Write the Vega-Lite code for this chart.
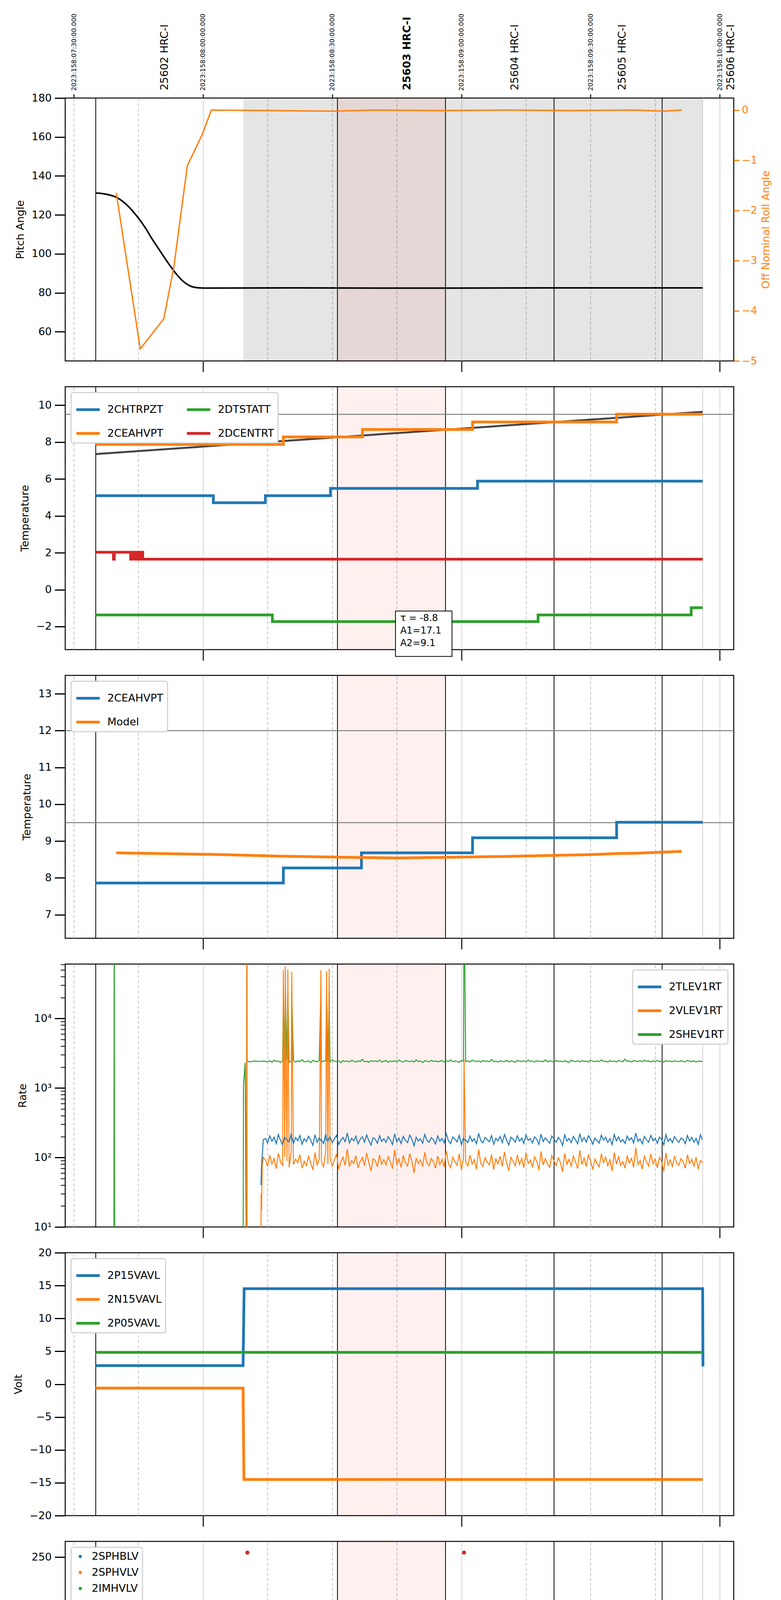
{
"$schema":"https://vega.github.io/schema/vega-lite/v6.json",
"background":"white",
"padding":{"top":33,"left":28,"right":5,"bottom":5},
"spacing":66,
"bounds":"flush",
"config":{
 "font":"DejaVu Sans",
 "view":{"stroke":"#000000","strokeWidth":2.5},
 "axis":{"labelFont":"DejaVu Sans","titleFont":"DejaVu Sans","labelFontSize":27,"titleFontSize":27,"titleFontWeight":"normal","labelColor":"#000000","titleColor":"#000000","tickColor":"#000000","tickSize":27,"tickWidth":3,"labelPadding":8,"titlePadding":14,"domain":false,"grid":false,"labelLimit":0},
 "legend":{"orient":"top-left","offset":15,"labelFont":"DejaVu Sans","labelFontSize":27,"labelColor":"#000000","fillColor":"#ffffff","strokeColor":"#cccccc","strokeWidth":2.5,"cornerRadius":6,"padding":10,"rowPadding":13,"symbolType":"stroke","symbolStrokeWidth":7,"symbolSize":3600,"labelOffset":16,"labelLimit":500},
 "text":{"font":"DejaVu Sans","color":"#000000"}
},
"resolve":{"scale":{"color":"independent"},"legend":{"color":"independent"}},
"datasets":{
 "obs_edges":[{"t":455.09},{"t":511.22},{"t":536.31},{"t":561.52},{"t":586.62}],
 "data_end":[{"t":596.03}],
 "pink_span":[{"t":511.22,"t2":536.31}],
 "grey_span":[{"t":489.37,"t2":596.03}],
 "obs_labels":[{"t":471.13,"obsid":"25602 HRC-I"},{"t":527.48,"obsid":"25603 HRC-I"},{"t":552.47,"obsid":"25604 HRC-I"},{"t":577.45,"obsid":"25605 HRC-I"},{"t":602.66,"obsid":"25606 HRC-I"}],
 "pitch":[{"t":455.09,"v":131.2},{"t":456.02,"v":131.1},{"t":457.76,"v":130.5},{"t":460.09,"v":128.8},{"t":462.41,"v":124.9},{"t":464.73,"v":119.1},{"t":466.48,"v":113.8},{"t":468.22,"v":107.5},{"t":469.96,"v":101.7},{"t":471.71,"v":95.9},{"t":473.45,"v":90.6},{"t":475.19,"v":86.3},{"t":476.94,"v":83.6},{"t":478.68,"v":82.6},{"t":480.42,"v":82.4},{"t":500,"v":82.5},{"t":530,"v":82.4},{"t":560,"v":82.5},{"t":596.03,"v":82.5}],
 "roll":[{"t":459.85,"v":-1.65},{"t":465.43,"v":-4.76},{"t":470.89,"v":-4.16},{"t":473.22,"v":-3.13},{"t":476.36,"v":-1.11},{"t":479.84,"v":-0.48},{"t":481.93,"v":0.0},{"t":495,"v":-0.01},{"t":510,"v":-0.02},{"t":520,"v":0.0},{"t":535,"v":-0.01},{"t":550,"v":0.0},{"t":565,"v":-0.01},{"t":580,"v":0.0},{"t":587,"v":-0.02},{"t":591.15,"v":0.0}],
 "p2":[
  {"t":455.09,"s":"2CHTRPZT","v":5.09},{"t":482.4,"s":"2CHTRPZT","v":4.71},{"t":494.48,"s":"2CHTRPZT","v":5.09},{"t":509.59,"s":"2CHTRPZT","v":5.49},{"t":543.75,"s":"2CHTRPZT","v":5.88},{"t":596.03,"s":"2CHTRPZT","v":5.88},
  {"t":455.09,"s":"2CEAHVPT","v":7.87},{"t":498.66,"s":"2CEAHVPT","v":8.28},{"t":517.02,"s":"2CEAHVPT","v":8.68},{"t":542.59,"s":"2CEAHVPT","v":9.09},{"t":576.05,"s":"2CEAHVPT","v":9.51},{"t":596.03,"s":"2CEAHVPT","v":9.51},
  {"t":455.09,"s":"2DTSTATT","v":-1.37},{"t":496.11,"s":"2DTSTATT","v":-1.73},{"t":557.81,"s":"2DTSTATT","v":-1.37},{"t":593.36,"s":"2DTSTATT","v":-0.98},{"t":596.03,"s":"2DTSTATT","v":-0.98},
  {"t":455.09,"s":"2DCENTRT","v":2.03},{"t":459.2,"s":"2DCENTRT","v":1.65},{"t":459.4,"s":"2DCENTRT","v":2.03},{"t":463.2,"s":"2DCENTRT","v":1.65},{"t":463.35,"s":"2DCENTRT","v":2.03},{"t":463.6,"s":"2DCENTRT","v":1.65},{"t":463.75,"s":"2DCENTRT","v":2.03},{"t":464.0,"s":"2DCENTRT","v":1.65},{"t":464.15,"s":"2DCENTRT","v":2.03},{"t":464.4,"s":"2DCENTRT","v":1.65},{"t":464.55,"s":"2DCENTRT","v":2.03},{"t":464.8,"s":"2DCENTRT","v":1.65},{"t":464.95,"s":"2DCENTRT","v":2.03},{"t":465.3,"s":"2DCENTRT","v":1.65},{"t":465.45,"s":"2DCENTRT","v":2.03},{"t":466.0,"s":"2DCENTRT","v":1.65},{"t":596.03,"s":"2DCENTRT","v":1.65}
 ],
 "trend":[{"t":455.09,"v":7.35},{"t":596.03,"v":9.64}],
 "limits2":[{"limit":9.5}],
 "note":[{"note":["τ = -8.8","A1=17.1","A2=9.1"]}],
 "limits3":[{"limit":12},{"limit":9.5}],
 "p3_hvpt":[{"t":455.09,"s":"2CEAHVPT","v":7.86},{"t":498.66,"s":"2CEAHVPT","v":8.27},{"t":516.79,"s":"2CEAHVPT","v":8.68},{"t":542.59,"s":"2CEAHVPT","v":9.09},{"t":576.05,"s":"2CEAHVPT","v":9.51},{"t":596.03,"s":"2CEAHVPT","v":9.51}],
 "p3_model":[{"t":459.85,"s":"Model","v":8.68},{"t":481.58,"s":"Model","v":8.64},{"t":497.85,"s":"Model","v":8.59},{"t":514.12,"s":"Model","v":8.56},{"t":524.92,"s":"Model","v":8.54},{"t":536.2,"s":"Model","v":8.56},{"t":548.98,"s":"Model","v":8.58},{"t":560.6,"s":"Model","v":8.61},{"t":569.31,"s":"Model","v":8.63},{"t":575.7,"s":"Model","v":8.66},{"t":580.35,"s":"Model","v":8.67},{"t":591.15,"s":"Model","v":8.72}],
 "p4":[
  {"t":459.3,"2SHEV1RT":1},{"t":459.39,"2SHEV1RT":1000000},{"t":459.48,"2SHEV1RT":1},
  {"t":489.3,"2SHEV1RT":1},{"t":489.4,"2SHEV1RT":1100},{"t":489.8,"2SHEV1RT":2300},
  {"t":490.1,"2VLEV1RT":1,"2SHEV1RT":1},{"t":490.18,"2VLEV1RT":1000000,"2SHEV1RT":1000000},{"t":490.26,"2VLEV1RT":1,"2SHEV1RT":2400},
  {"t":491.0,"2SHEV1RT":2380},{"t":492.0,"2SHEV1RT":2450},{"t":493.0,"2SHEV1RT":2400},
  {"t":493.4,"2VLEV1RT":1},{"t":493.45,"2TLEV1RT":40},{"t":493.5,"2VLEV1RT":30},{"t":493.6,"2TLEV1RT":75,"2VLEV1RT":17},{"t":493.75,"2VLEV1RT":75},
  {"t":494.0,"2TLEV1RT":180,"2VLEV1RT":100,"2SHEV1RT":2430},
  {"t":494.5,"2TLEV1RT":188,"2VLEV1RT":92,"2SHEV1RT":2420},
  {"t":495.0,"2TLEV1RT":162,"2VLEV1RT":74,"2SHEV1RT":2380},
  {"t":495.5,"2TLEV1RT":205,"2VLEV1RT":108,"2SHEV1RT":2460},
  {"t":496.0,"2TLEV1RT":171,"2VLEV1RT":81,"2SHEV1RT":2350},
  {"t":496.5,"2TLEV1RT":196,"2VLEV1RT":97,"2SHEV1RT":2500},
  {"t":497.0,"2TLEV1RT":158,"2VLEV1RT":69,"2SHEV1RT":2410},
  {"t":497.5,"2TLEV1RT":214,"2VLEV1RT":115,"2SHEV1RT":2440},
  {"t":498.0,"2TLEV1RT":176,"2VLEV1RT":85,"2SHEV1RT":2330},
  {"t":498.5,"2TLEV1RT":152,"2VLEV1RT":77,"2SHEV1RT":2470},
  {"t":498.66,"2TLEV1RT":170,"2VLEV1RT":49600,"2SHEV1RT":24000},
  {"t":499.0,"2TLEV1RT":199,"2VLEV1RT":102,"2SHEV1RT":2390},
  {"t":499.1,"2TLEV1RT":185,"2VLEV1RT":56000,"2SHEV1RT":27500},
  {"t":499.5,"2TLEV1RT":183,"2VLEV1RT":89,"2SHEV1RT":2520},
  {"t":499.7,"2TLEV1RT":172,"2VLEV1RT":51000,"2SHEV1RT":24000},
  {"t":500.0,"2TLEV1RT":167,"2VLEV1RT":72,"2SHEV1RT":2360},
  {"t":500.5,"2TLEV1RT":221,"2VLEV1RT":121,"2SHEV1RT":2430},
  {"t":500.6,"2TLEV1RT":190,"2VLEV1RT":46800,"2SHEV1RT":24000},
  {"t":501.0,"2TLEV1RT":160,"2VLEV1RT":79,"2SHEV1RT":2480},
  {"t":501.5,"2TLEV1RT":193,"2VLEV1RT":95,"2SHEV1RT":2340},
  {"t":502.0,"2TLEV1RT":174,"2VLEV1RT":84,"2SHEV1RT":2450},
  {"t":502.5,"2TLEV1RT":207,"2VLEV1RT":110,"2SHEV1RT":2400},
  {"t":503.0,"2TLEV1RT":155,"2VLEV1RT":70,"2SHEV1RT":2550},
  {"t":503.5,"2TLEV1RT":186,"2VLEV1RT":88,"2SHEV1RT":2370},
  {"t":504.0,"2TLEV1RT":169,"2VLEV1RT":76,"2SHEV1RT":2410},
  {"t":504.5,"2TLEV1RT":202,"2VLEV1RT":104,"2SHEV1RT":2460},
  {"t":505.0,"2TLEV1RT":178,"2VLEV1RT":83,"2SHEV1RT":2320},
  {"t":505.5,"2TLEV1RT":149,"2VLEV1RT":66,"2SHEV1RT":2490},
  {"t":506.0,"2TLEV1RT":212,"2VLEV1RT":118,"2SHEV1RT":2430},
  {"t":506.5,"2TLEV1RT":165,"2VLEV1RT":78,"2SHEV1RT":2380},
  {"t":507.0,"2TLEV1RT":191,"2VLEV1RT":94,"2SHEV1RT":2510},
  {"t":507.38,"2TLEV1RT":176,"2VLEV1RT":49600,"2SHEV1RT":27500},
  {"t":507.5,"2TLEV1RT":180,"2VLEV1RT":87,"2SHEV1RT":2350},
  {"t":508.0,"2TLEV1RT":158,"2VLEV1RT":73,"2SHEV1RT":2440},
  {"t":508.5,"2TLEV1RT":216,"2VLEV1RT":126,"2SHEV1RT":2470},
  {"t":508.7,"2TLEV1RT":181,"2VLEV1RT":48000,"2SHEV1RT":23000},
  {"t":509.0,"2TLEV1RT":172,"2VLEV1RT":80,"2SHEV1RT":2400},
  {"t":509.3,"2TLEV1RT":188,"2VLEV1RT":52000,"2SHEV1RT":25000},
  {"t":509.5,"2TLEV1RT":197,"2VLEV1RT":99,"2SHEV1RT":2360},
  {"t":510.0,"2TLEV1RT":163,"2VLEV1RT":75,"2SHEV1RT":2530},
  {"t":510.5,"2TLEV1RT":185,"2VLEV1RT":91,"2SHEV1RT":2420},
  {"t":511.0,"2TLEV1RT":208,"2VLEV1RT":112,"2SHEV1RT":2390},
  {"t":511.5,"2TLEV1RT":154,"2VLEV1RT":68,"2SHEV1RT":2450},
  {"t":512.0,"2TLEV1RT":177,"2VLEV1RT":86,"2SHEV1RT":2310},
  {"t":512.5,"2TLEV1RT":194,"2VLEV1RT":101,"2SHEV1RT":2480},
  {"t":513.0,"2TLEV1RT":168,"2VLEV1RT":77,"2SHEV1RT":2410},
  {"t":513.5,"2TLEV1RT":225,"2VLEV1RT":133,"2SHEV1RT":2440},
  {"t":514.0,"2TLEV1RT":161,"2VLEV1RT":74,"2SHEV1RT":2370},
  {"t":514.5,"2TLEV1RT":189,"2VLEV1RT":90,"2SHEV1RT":2500},
  {"t":515.0,"2TLEV1RT":173,"2VLEV1RT":82,"2SHEV1RT":2430},
  {"t":515.5,"2TLEV1RT":203,"2VLEV1RT":106,"2SHEV1RT":2350},
  {"t":516.0,"2TLEV1RT":157,"2VLEV1RT":71,"2SHEV1RT":2460},
  {"t":516.5,"2TLEV1RT":182,"2VLEV1RT":88,"2SHEV1RT":2400},
  {"t":517.0,"2TLEV1RT":198,"2VLEV1RT":100,"2SHEV1RT":2580},
  {"t":517.5,"2TLEV1RT":166,"2VLEV1RT":76,"2SHEV1RT":2380},
  {"t":518.0,"2TLEV1RT":211,"2VLEV1RT":116,"2SHEV1RT":2420},
  {"t":518.5,"2TLEV1RT":175,"2VLEV1RT":85,"2SHEV1RT":2340},
  {"t":519.0,"2TLEV1RT":150,"2VLEV1RT":64,"2SHEV1RT":2470},
  {"t":519.5,"2TLEV1RT":192,"2VLEV1RT":96,"2SHEV1RT":2410},
  {"t":520.0,"2TLEV1RT":184,"2VLEV1RT":91,"2SHEV1RT":2450},
  {"t":520.5,"2TLEV1RT":160,"2VLEV1RT":73,"2SHEV1RT":2390},
  {"t":521.0,"2TLEV1RT":206,"2VLEV1RT":109,"2SHEV1RT":2510},
  {"t":521.5,"2TLEV1RT":170,"2VLEV1RT":80,"2SHEV1RT":2360},
  {"t":522.0,"2TLEV1RT":187,"2VLEV1RT":93,"2SHEV1RT":2430},
  {"t":522.5,"2TLEV1RT":164,"2VLEV1RT":78,"2SHEV1RT":2480},
  {"t":523.0,"2TLEV1RT":199,"2VLEV1RT":103,"2SHEV1RT":2330},
  {"t":523.5,"2TLEV1RT":179,"2VLEV1RT":86,"2SHEV1RT":2440},
  {"t":524.0,"2TLEV1RT":153,"2VLEV1RT":69,"2SHEV1RT":2400},
  {"t":524.5,"2TLEV1RT":219,"2VLEV1RT":128,"2SHEV1RT":2460},
  {"t":525.0,"2TLEV1RT":169,"2VLEV1RT":79,"2SHEV1RT":2370},
  {"t":525.5,"2TLEV1RT":190,"2VLEV1RT":95,"2SHEV1RT":2520},
  {"t":526.0,"2TLEV1RT":158,"2VLEV1RT":72,"2SHEV1RT":2410},
  {"t":526.5,"2TLEV1RT":201,"2VLEV1RT":107,"2SHEV1RT":2350},
  {"t":527.0,"2TLEV1RT":176,"2VLEV1RT":84,"2SHEV1RT":2490},
  {"t":527.5,"2TLEV1RT":163,"2VLEV1RT":75,"2SHEV1RT":2430},
  {"t":528.0,"2TLEV1RT":210,"2VLEV1RT":114,"2SHEV1RT":2390},
  {"t":528.5,"2TLEV1RT":184,"2VLEV1RT":89,"2SHEV1RT":2450},
  {"t":529.0,"2TLEV1RT":147,"2VLEV1RT":60,"2SHEV1RT":2360},
  {"t":529.5,"2TLEV1RT":195,"2VLEV1RT":98,"2SHEV1RT":2540},
  {"t":530.0,"2TLEV1RT":172,"2VLEV1RT":81,"2SHEV1RT":2400},
  {"t":530.5,"2TLEV1RT":186,"2VLEV1RT":92,"2SHEV1RT":2440},
  {"t":531.0,"2TLEV1RT":160,"2VLEV1RT":74,"2SHEV1RT":2320},
  {"t":531.5,"2TLEV1RT":214,"2VLEV1RT":119,"2SHEV1RT":2470},
  {"t":532.0,"2TLEV1RT":177,"2VLEV1RT":83,"2SHEV1RT":2420},
  {"t":532.5,"2TLEV1RT":165,"2VLEV1RT":76,"2SHEV1RT":2380},
  {"t":533.0,"2TLEV1RT":193,"2VLEV1RT":97,"2SHEV1RT":2500},
  {"t":533.5,"2TLEV1RT":181,"2VLEV1RT":88,"2SHEV1RT":2410},
  {"t":534.0,"2TLEV1RT":156,"2VLEV1RT":70,"2SHEV1RT":2450},
  {"t":534.5,"2TLEV1RT":204,"2VLEV1RT":105,"2SHEV1RT":2370},
  {"t":535.0,"2TLEV1RT":171,"2VLEV1RT":79,"2SHEV1RT":2430},
  {"t":535.5,"2TLEV1RT":188,"2VLEV1RT":94,"2SHEV1RT":2490},
  {"t":536.0,"2TLEV1RT":162,"2VLEV1RT":73,"2SHEV1RT":2350},
  {"t":536.5,"2TLEV1RT":218,"2VLEV1RT":124,"2SHEV1RT":2460},
  {"t":537.0,"2TLEV1RT":174,"2VLEV1RT":82,"2SHEV1RT":2400},
  {"t":537.5,"2TLEV1RT":158,"2VLEV1RT":71,"2SHEV1RT":2530},
  {"t":538.0,"2TLEV1RT":197,"2VLEV1RT":101,"2SHEV1RT":2380},
  {"t":538.5,"2TLEV1RT":183,"2VLEV1RT":87,"2SHEV1RT":2440},
  {"t":539.0,"2TLEV1RT":167,"2VLEV1RT":77,"2SHEV1RT":2410},
  {"t":539.5,"2TLEV1RT":209,"2VLEV1RT":113,"2SHEV1RT":2340},
  {"t":540.0,"2TLEV1RT":152,"2VLEV1RT":66,"2SHEV1RT":2480},
  {"t":540.5,"2TLEV1RT":191,"2VLEV1RT":96,"2SHEV1RT":2420},
  {"t":540.61,"2TLEV1RT":180,"2VLEV1RT":2600,"2SHEV1RT":1000000},
  {"t":541.0,"2TLEV1RT":179,"2VLEV1RT":85,"2SHEV1RT":2390},
  {"t":541.5,"2TLEV1RT":164,"2VLEV1RT":75,"2SHEV1RT":2460},
  {"t":542.0,"2TLEV1RT":203,"2VLEV1RT":108,"2SHEV1RT":2370},
  {"t":542.5,"2TLEV1RT":170,"2VLEV1RT":80,"2SHEV1RT":2510},
  {"t":543.0,"2TLEV1RT":186,"2VLEV1RT":93,"2SHEV1RT":2430},
  {"t":543.5,"2TLEV1RT":157,"2VLEV1RT":68,"2SHEV1RT":2400},
  {"t":544.0,"2TLEV1RT":222,"2VLEV1RT":130,"2SHEV1RT":2450},
  {"t":544.5,"2TLEV1RT":175,"2VLEV1RT":83,"2SHEV1RT":2360},
  {"t":545.0,"2TLEV1RT":162,"2VLEV1RT":74,"2SHEV1RT":2490},
  {"t":545.5,"2TLEV1RT":194,"2VLEV1RT":99,"2SHEV1RT":2410},
  {"t":546.0,"2TLEV1RT":180,"2VLEV1RT":86,"2SHEV1RT":2440},
  {"t":546.5,"2TLEV1RT":168,"2VLEV1RT":78,"2SHEV1RT":2380},
  {"t":547.0,"2TLEV1RT":207,"2VLEV1RT":111,"2SHEV1RT":2560},
  {"t":547.5,"2TLEV1RT":155,"2VLEV1RT":67,"2SHEV1RT":2400},
  {"t":548.0,"2TLEV1RT":189,"2VLEV1RT":95,"2SHEV1RT":2430},
  {"t":548.5,"2TLEV1RT":173,"2VLEV1RT":81,"2SHEV1RT":2350},
  {"t":549.0,"2TLEV1RT":200,"2VLEV1RT":104,"2SHEV1RT":2470},
  {"t":549.5,"2TLEV1RT":163,"2VLEV1RT":74,"2SHEV1RT":2420},
  {"t":550.0,"2TLEV1RT":214,"2VLEV1RT":120,"2SHEV1RT":2390},
  {"t":550.5,"2TLEV1RT":178,"2VLEV1RT":84,"2SHEV1RT":2500},
  {"t":551.0,"2TLEV1RT":151,"2VLEV1RT":65,"2SHEV1RT":2370},
  {"t":551.5,"2TLEV1RT":196,"2VLEV1RT":100,"2SHEV1RT":2450},
  {"t":552.0,"2TLEV1RT":184,"2VLEV1RT":89,"2SHEV1RT":2410},
  {"t":552.5,"2TLEV1RT":166,"2VLEV1RT":76,"2SHEV1RT":2340},
  {"t":553.0,"2TLEV1RT":205,"2VLEV1RT":109,"2SHEV1RT":2480},
  {"t":553.5,"2TLEV1RT":171,"2VLEV1RT":79,"2SHEV1RT":2430},
  {"t":554.0,"2TLEV1RT":190,"2VLEV1RT":97,"2SHEV1RT":2400},
  {"t":554.5,"2TLEV1RT":159,"2VLEV1RT":71,"2SHEV1RT":2460},
  {"t":555.0,"2TLEV1RT":211,"2VLEV1RT":117,"2SHEV1RT":2380},
  {"t":555.5,"2TLEV1RT":176,"2VLEV1RT":82,"2SHEV1RT":2520},
  {"t":556.0,"2TLEV1RT":187,"2VLEV1RT":92,"2SHEV1RT":2410},
  {"t":556.5,"2TLEV1RT":161,"2VLEV1RT":73,"2SHEV1RT":2440},
  {"t":557.0,"2TLEV1RT":198,"2VLEV1RT":102,"2SHEV1RT":2360},
  {"t":557.5,"2TLEV1RT":182,"2VLEV1RT":88,"2SHEV1RT":2470},
  {"t":558.0,"2TLEV1RT":154,"2VLEV1RT":66,"2SHEV1RT":2400},
  {"t":558.5,"2TLEV1RT":216,"2VLEV1RT":122,"2SHEV1RT":2430},
  {"t":559.0,"2TLEV1RT":169,"2VLEV1RT":78,"2SHEV1RT":2390},
  {"t":559.5,"2TLEV1RT":192,"2VLEV1RT":96,"2SHEV1RT":2540},
  {"t":560.0,"2TLEV1RT":174,"2VLEV1RT":81,"2SHEV1RT":2370},
  {"t":560.5,"2TLEV1RT":160,"2VLEV1RT":72,"2SHEV1RT":2450},
  {"t":561.0,"2TLEV1RT":204,"2VLEV1RT":107,"2SHEV1RT":2420},
  {"t":561.5,"2TLEV1RT":185,"2VLEV1RT":90,"2SHEV1RT":2350},
  {"t":562.0,"2TLEV1RT":165,"2VLEV1RT":76,"2SHEV1RT":2490},
  {"t":562.5,"2TLEV1RT":195,"2VLEV1RT":99,"2SHEV1RT":2410},
  {"t":563.0,"2TLEV1RT":178,"2VLEV1RT":85,"2SHEV1RT":2440},
  {"t":563.5,"2TLEV1RT":149,"2VLEV1RT":62,"2SHEV1RT":2380},
  {"t":564.0,"2TLEV1RT":212,"2VLEV1RT":115,"2SHEV1RT":2460},
  {"t":564.5,"2TLEV1RT":172,"2VLEV1RT":80,"2SHEV1RT":2400},
  {"t":565.0,"2TLEV1RT":188,"2VLEV1RT":94,"2SHEV1RT":2330},
  {"t":565.5,"2TLEV1RT":163,"2VLEV1RT":75,"2SHEV1RT":2510},
  {"t":566.0,"2TLEV1RT":201,"2VLEV1RT":105,"2SHEV1RT":2430},
  {"t":566.5,"2TLEV1RT":180,"2VLEV1RT":87,"2SHEV1RT":2390},
  {"t":567.0,"2TLEV1RT":157,"2VLEV1RT":69,"2SHEV1RT":2450},
  {"t":567.5,"2TLEV1RT":219,"2VLEV1RT":127,"2SHEV1RT":2370},
  {"t":568.0,"2TLEV1RT":170,"2VLEV1RT":79,"2SHEV1RT":2480},
  {"t":568.5,"2TLEV1RT":193,"2VLEV1RT":98,"2SHEV1RT":2410},
  {"t":569.0,"2TLEV1RT":166,"2VLEV1RT":74,"2SHEV1RT":2440},
  {"t":569.5,"2TLEV1RT":206,"2VLEV1RT":110,"2SHEV1RT":2360},
  {"t":570.0,"2TLEV1RT":183,"2VLEV1RT":88,"2SHEV1RT":2500},
  {"t":570.5,"2TLEV1RT":155,"2VLEV1RT":67,"2SHEV1RT":2420},
  {"t":571.0,"2TLEV1RT":190,"2VLEV1RT":95,"2SHEV1RT":2390},
  {"t":571.5,"2TLEV1RT":175,"2VLEV1RT":82,"2SHEV1RT":2460},
  {"t":572.0,"2TLEV1RT":161,"2VLEV1RT":73,"2SHEV1RT":2380},
  {"t":572.5,"2TLEV1RT":209,"2VLEV1RT":113,"2SHEV1RT":2530},
  {"t":573.0,"2TLEV1RT":177,"2VLEV1RT":84,"2SHEV1RT":2410},
  {"t":573.5,"2TLEV1RT":196,"2VLEV1RT":101,"2SHEV1RT":2430},
  {"t":574.0,"2TLEV1RT":164,"2VLEV1RT":76,"2SHEV1RT":2350},
  {"t":574.5,"2TLEV1RT":187,"2VLEV1RT":93,"2SHEV1RT":2470},
  {"t":575.0,"2TLEV1RT":153,"2VLEV1RT":64,"2SHEV1RT":2400},
  {"t":575.5,"2TLEV1RT":214,"2VLEV1RT":118,"2SHEV1RT":2440},
  {"t":576.0,"2TLEV1RT":173,"2VLEV1RT":80,"2SHEV1RT":2370},
  {"t":576.5,"2TLEV1RT":198,"2VLEV1RT":103,"2SHEV1RT":2490},
  {"t":577.0,"2TLEV1RT":168,"2VLEV1RT":77,"2SHEV1RT":2420},
  {"t":577.5,"2TLEV1RT":181,"2VLEV1RT":87,"2SHEV1RT":2390},
  {"t":578.0,"2TLEV1RT":159,"2VLEV1RT":70,"2SHEV1RT":2600},
  {"t":578.5,"2TLEV1RT":203,"2VLEV1RT":106,"2SHEV1RT":2410},
  {"t":579.0,"2TLEV1RT":176,"2VLEV1RT":83,"2SHEV1RT":2450},
  {"t":579.5,"2TLEV1RT":192,"2VLEV1RT":97,"2SHEV1RT":2360},
  {"t":580.0,"2TLEV1RT":162,"2VLEV1RT":72,"2SHEV1RT":2480},
  {"t":580.5,"2TLEV1RT":224,"2VLEV1RT":138,"2SHEV1RT":2430},
  {"t":581.0,"2TLEV1RT":171,"2VLEV1RT":79,"2SHEV1RT":2400},
  {"t":581.5,"2TLEV1RT":185,"2VLEV1RT":91,"2SHEV1RT":2460},
  {"t":582.0,"2TLEV1RT":157,"2VLEV1RT":68,"2SHEV1RT":2380},
  {"t":582.5,"2TLEV1RT":200,"2VLEV1RT":104,"2SHEV1RT":2510},
  {"t":583.0,"2TLEV1RT":179,"2VLEV1RT":86,"2SHEV1RT":2420},
  {"t":583.5,"2TLEV1RT":166,"2VLEV1RT":75,"2SHEV1RT":2440},
  {"t":584.0,"2TLEV1RT":208,"2VLEV1RT":112,"2SHEV1RT":2370},
  {"t":584.5,"2TLEV1RT":174,"2VLEV1RT":81,"2SHEV1RT":2450},
  {"t":585.0,"2TLEV1RT":189,"2VLEV1RT":95,"2SHEV1RT":2400},
  {"t":585.5,"2TLEV1RT":160,"2VLEV1RT":71,"2SHEV1RT":2480},
  {"t":586.0,"2TLEV1RT":196,"2VLEV1RT":100,"2SHEV1RT":2390},
  {"t":586.5,"2TLEV1RT":182,"2VLEV1RT":88,"2SHEV1RT":2430},
  {"t":587.0,"2TLEV1RT":152,"2VLEV1RT":63,"2SHEV1RT":2360},
  {"t":587.5,"2TLEV1RT":213,"2VLEV1RT":116,"2SHEV1RT":2470},
  {"t":588.0,"2TLEV1RT":170,"2VLEV1RT":78,"2SHEV1RT":2410},
  {"t":588.5,"2TLEV1RT":186,"2VLEV1RT":92,"2SHEV1RT":2440},
  {"t":589.0,"2TLEV1RT":163,"2VLEV1RT":74,"2SHEV1RT":2380},
  {"t":589.5,"2TLEV1RT":201,"2VLEV1RT":105,"2SHEV1RT":2460},
  {"t":590.0,"2TLEV1RT":178,"2VLEV1RT":83,"2SHEV1RT":2420},
  {"t":590.5,"2TLEV1RT":165,"2VLEV1RT":77,"2SHEV1RT":2390},
  {"t":591.0,"2TLEV1RT":190,"2VLEV1RT":96,"2SHEV1RT":2450},
  {"t":591.5,"2TLEV1RT":183,"2VLEV1RT":87,"2SHEV1RT":2410},
  {"t":592.0,"2TLEV1RT":158,"2VLEV1RT":70,"2SHEV1RT":2370},
  {"t":592.5,"2TLEV1RT":207,"2VLEV1RT":109,"2SHEV1RT":2500},
  {"t":593.0,"2TLEV1RT":172,"2VLEV1RT":82,"2SHEV1RT":2430},
  {"t":593.5,"2TLEV1RT":195,"2VLEV1RT":94,"2SHEV1RT":2390},
  {"t":594.0,"2TLEV1RT":166,"2VLEV1RT":75,"2SHEV1RT":2460},
  {"t":594.5,"2TLEV1RT":188,"2VLEV1RT":101,"2SHEV1RT":2350},
  {"t":595.0,"2TLEV1RT":154,"2VLEV1RT":68,"2SHEV1RT":2440},
  {"t":595.5,"2TLEV1RT":211,"2VLEV1RT":90,"2SHEV1RT":2420},
  {"t":596.0,"2TLEV1RT":179,"2VLEV1RT":84,"2SHEV1RT":2400}
 ],
 "p5":[
  {"t":455.09,"s":"2P15VAVL","v":2.82},{"t":489.3,"s":"2P15VAVL","v":2.82},{"t":489.55,"s":"2P15VAVL","v":14.53},{"t":596.03,"s":"2P15VAVL","v":14.53},{"t":596.1,"s":"2P15VAVL","v":2.69},
  {"t":455.09,"s":"2N15VAVL","v":-0.6},{"t":489.3,"s":"2N15VAVL","v":-0.6},{"t":489.5,"s":"2N15VAVL","v":-14.5},{"t":596.03,"s":"2N15VAVL","v":-14.5},
  {"t":455.09,"s":"2P05VAVL","v":4.84},{"t":596.03,"s":"2P05VAVL","v":4.84}
 ],
 "p6":[
  {"t":490.3,"2IMHBLV":254.7},{"t":540.61,"2IMHBLV":254.7},{"t":490.76,"2IMHBLV":126.8},{"t":490.77,"2IMHBLV":122},{"t":490.78,"2IMHBLV":118.9},{"t":490.99,"2IMHVLV":99.3},{"t":491.11,"2IMHBLV":105.8},{"t":491.23,"2IMHVLV":99},{"t":491.46,"2IMHBLV":104},{"t":491.93,"2IMHBLV":101,"2IMHVLV":95},{"t":492.39,"2IMHVLV":90.5},{"t":492.51,"2IMHBLV":97},{"t":492.97,"2IMHVLV":86},{"t":493.2,"2IMHBLV":92.5},{"t":493.55,"2IMHBLV":90},{"t":493.67,"2IMHVLV":82},{"t":493.9,"2IMHBLV":88.7,"2IMHVLV":80},{"t":498.66,"2IMHBLV":79,"2IMHVLV":127},{"t":508.54,"2IMHBLV":79,"2IMHVLV":127},{"t":509.82,"2IMHBLV":79,"2IMHVLV":127},
  {"t":494.25,"2IMHBLV":86,"2IMHVLV":79},{"t":495.0,"2IMHBLV":86,"2IMHVLV":80},{"t":495.75,"2IMHBLV":86,"2IMHVLV":79},{"t":496.5,"2IMHBLV":86,"2IMHVLV":79},{"t":497.25,"2IMHBLV":86,"2IMHVLV":81},{"t":498.0,"2IMHBLV":86,"2IMHVLV":79},{"t":498.75,"2IMHBLV":86,"2IMHVLV":80},{"t":499.5,"2IMHBLV":86,"2IMHVLV":79},{"t":500.25,"2IMHBLV":86,"2IMHVLV":79},{"t":501.0,"2IMHBLV":86,"2IMHVLV":80},
  {"t":501.75,"2IMHBLV":86,"2IMHVLV":79},{"t":502.5,"2IMHBLV":86,"2IMHVLV":79},{"t":503.25,"2IMHBLV":86,"2IMHVLV":81},{"t":504.0,"2IMHBLV":86,"2IMHVLV":80},{"t":504.75,"2IMHBLV":86,"2IMHVLV":79},{"t":505.5,"2IMHBLV":86,"2IMHVLV":79},{"t":506.25,"2IMHBLV":86,"2IMHVLV":80},{"t":507.0,"2IMHBLV":86,"2IMHVLV":79},{"t":507.75,"2IMHBLV":86,"2IMHVLV":81},{"t":508.5,"2IMHBLV":86,"2IMHVLV":79},
  {"t":509.25,"2IMHBLV":86,"2IMHVLV":79},{"t":510.0,"2IMHBLV":86,"2IMHVLV":80},{"t":510.75,"2IMHBLV":86,"2IMHVLV":79},{"t":511.5,"2IMHBLV":86,"2IMHVLV":79},{"t":512.25,"2IMHBLV":86,"2IMHVLV":81},{"t":513.0,"2IMHBLV":86,"2IMHVLV":79},{"t":513.75,"2IMHBLV":86,"2IMHVLV":80},{"t":514.5,"2IMHBLV":86,"2IMHVLV":79},{"t":515.25,"2IMHBLV":86,"2IMHVLV":79},{"t":516.0,"2IMHBLV":86,"2IMHVLV":80},
  {"t":516.75,"2IMHBLV":86,"2IMHVLV":79},{"t":517.5,"2IMHBLV":86,"2IMHVLV":81},{"t":518.25,"2IMHBLV":86,"2IMHVLV":79},{"t":519.0,"2IMHBLV":86,"2IMHVLV":79},{"t":519.75,"2IMHBLV":86,"2IMHVLV":80},{"t":520.5,"2IMHBLV":86,"2IMHVLV":79},{"t":521.25,"2IMHBLV":86,"2IMHVLV":79},{"t":522.0,"2IMHBLV":86,"2IMHVLV":81},{"t":522.75,"2IMHBLV":86,"2IMHVLV":79},{"t":523.5,"2IMHBLV":86,"2IMHVLV":80},
  {"t":524.25,"2IMHBLV":86,"2IMHVLV":79},{"t":525.0,"2IMHBLV":86,"2IMHVLV":79},{"t":525.75,"2IMHBLV":86,"2IMHVLV":80},{"t":526.5,"2IMHBLV":86,"2IMHVLV":79},{"t":527.25,"2IMHBLV":86,"2IMHVLV":81},{"t":528.0,"2IMHBLV":86,"2IMHVLV":79},{"t":528.75,"2IMHBLV":86,"2IMHVLV":79},{"t":529.5,"2IMHBLV":86,"2IMHVLV":80},{"t":530.25,"2IMHBLV":86,"2IMHVLV":79},{"t":531.0,"2IMHBLV":86,"2IMHVLV":80},
  {"t":531.75,"2IMHBLV":86,"2IMHVLV":79},{"t":532.5,"2IMHBLV":86,"2IMHVLV":81},{"t":533.25,"2IMHBLV":86,"2IMHVLV":79},{"t":534.0,"2IMHBLV":86,"2IMHVLV":79},{"t":534.75,"2IMHBLV":86,"2IMHVLV":80},{"t":535.5,"2IMHBLV":86,"2IMHVLV":79},{"t":536.25,"2IMHBLV":86,"2IMHVLV":79},{"t":537.0,"2IMHBLV":86,"2IMHVLV":81},{"t":537.75,"2IMHBLV":86,"2IMHVLV":80},{"t":538.5,"2IMHBLV":86,"2IMHVLV":79},
  {"t":539.25,"2IMHBLV":86,"2IMHVLV":79},{"t":540.0,"2IMHBLV":86,"2IMHVLV":80},{"t":540.75,"2IMHBLV":86,"2IMHVLV":79},{"t":541.5,"2IMHBLV":86,"2IMHVLV":81},{"t":542.25,"2IMHBLV":86,"2IMHVLV":79},{"t":543.0,"2IMHBLV":86,"2IMHVLV":79},{"t":543.75,"2IMHBLV":86,"2IMHVLV":80},{"t":544.5,"2IMHBLV":86,"2IMHVLV":79},{"t":545.25,"2IMHBLV":86,"2IMHVLV":80},{"t":546.0,"2IMHBLV":86,"2IMHVLV":79},
  {"t":546.75,"2IMHBLV":86,"2IMHVLV":81},{"t":547.5,"2IMHBLV":86,"2IMHVLV":79},{"t":548.25,"2IMHBLV":86,"2IMHVLV":79},{"t":549.0,"2IMHBLV":86,"2IMHVLV":80},{"t":549.75,"2IMHBLV":86,"2IMHVLV":79},{"t":550.5,"2IMHBLV":86,"2IMHVLV":79},{"t":551.25,"2IMHBLV":86,"2IMHVLV":81},{"t":552.0,"2IMHBLV":86,"2IMHVLV":80},{"t":552.75,"2IMHBLV":86,"2IMHVLV":79},{"t":553.5,"2IMHBLV":86,"2IMHVLV":79},
  {"t":554.25,"2IMHBLV":86,"2IMHVLV":80},{"t":555.0,"2IMHBLV":86,"2IMHVLV":79},{"t":555.75,"2IMHBLV":86,"2IMHVLV":81},{"t":556.5,"2IMHBLV":86,"2IMHVLV":79},{"t":557.25,"2IMHBLV":86,"2IMHVLV":79},{"t":558.0,"2IMHBLV":86,"2IMHVLV":80},{"t":558.75,"2IMHBLV":86,"2IMHVLV":79},{"t":559.5,"2IMHBLV":86,"2IMHVLV":81},{"t":560.25,"2IMHBLV":86,"2IMHVLV":79},{"t":561.0,"2IMHBLV":86,"2IMHVLV":80},
  {"t":561.75,"2IMHBLV":86,"2IMHVLV":79},{"t":562.5,"2IMHBLV":86,"2IMHVLV":79},{"t":563.25,"2IMHBLV":86,"2IMHVLV":81},{"t":564.0,"2IMHBLV":86,"2IMHVLV":79},{"t":564.75,"2IMHBLV":86,"2IMHVLV":80},{"t":565.5,"2IMHBLV":86,"2IMHVLV":79},{"t":566.25,"2IMHBLV":86,"2IMHVLV":79},{"t":567.0,"2IMHBLV":86,"2IMHVLV":80},{"t":567.75,"2IMHBLV":86,"2IMHVLV":81},{"t":568.5,"2IMHBLV":86,"2IMHVLV":79},
  {"t":569.25,"2IMHBLV":86,"2IMHVLV":79},{"t":570.0,"2IMHBLV":86,"2IMHVLV":80},{"t":570.75,"2IMHBLV":86,"2IMHVLV":79},{"t":571.5,"2IMHBLV":86,"2IMHVLV":79},{"t":572.25,"2IMHBLV":86,"2IMHVLV":81},{"t":573.0,"2IMHBLV":86,"2IMHVLV":79},{"t":573.75,"2IMHBLV":86,"2IMHVLV":80},{"t":574.5,"2IMHBLV":86,"2IMHVLV":79},{"t":575.25,"2IMHBLV":86,"2IMHVLV":80},{"t":576.0,"2IMHBLV":86,"2IMHVLV":79},
  {"t":576.75,"2IMHBLV":86,"2IMHVLV":81},{"t":577.5,"2IMHBLV":86,"2IMHVLV":79},{"t":578.25,"2IMHBLV":86,"2IMHVLV":79},{"t":579.0,"2IMHBLV":86,"2IMHVLV":80},{"t":579.75,"2IMHBLV":86,"2IMHVLV":79},{"t":580.5,"2IMHBLV":86,"2IMHVLV":81},{"t":581.25,"2IMHBLV":86,"2IMHVLV":79},{"t":582.0,"2IMHBLV":86,"2IMHVLV":80},{"t":582.75,"2IMHBLV":86,"2IMHVLV":79},{"t":583.5,"2IMHBLV":86,"2IMHVLV":79},
  {"t":584.25,"2IMHBLV":86,"2IMHVLV":81},{"t":585.0,"2IMHBLV":86,"2IMHVLV":79},{"t":585.75,"2IMHBLV":86,"2IMHVLV":80},{"t":586.5,"2IMHBLV":86,"2IMHVLV":79},{"t":587.25,"2IMHBLV":86,"2IMHVLV":79},{"t":588.0,"2IMHBLV":86,"2IMHVLV":81},{"t":588.75,"2IMHBLV":86,"2IMHVLV":79},{"t":589.5,"2IMHBLV":86,"2IMHVLV":80},{"t":590.25,"2IMHBLV":86,"2IMHVLV":79},{"t":591.0,"2IMHBLV":86,"2IMHVLV":79},
  {"t":591.75,"2IMHBLV":86,"2IMHVLV":80},{"t":592.5,"2IMHBLV":86,"2IMHVLV":81},{"t":593.25,"2IMHBLV":86,"2IMHVLV":79},{"t":594.0,"2IMHBLV":86,"2IMHVLV":79},{"t":594.75,"2IMHBLV":86,"2IMHVLV":80},{"t":595.5,"2IMHBLV":86,"2IMHVLV":79},{"t":596.0,"2IMHBLV":86,"2IMHVLV":79}
 ],
 "p7":[
  {"t":490.53,"s":"2SPINATM","v":4.16},{"t":492.04,"s":"2SPINATM","v":4.62},{"t":498.4,"s":"2SPINATM","v":-5},{"t":498.6,"s":"2SPINATM","v":4.62},{"t":498.8,"s":"2SPINATM","v":-5},{"t":499.0,"s":"2SPINATM","v":4.62},{"t":499.2,"s":"2SPINATM","v":-5},{"t":499.4,"s":"2SPINATM","v":4.62},{"t":499.6,"s":"2SPINATM","v":-5},{"t":499.8,"s":"2SPINATM","v":4.62},{"t":500.0,"s":"2SPINATM","v":-5},{"t":500.2,"s":"2SPINATM","v":4.62},{"t":500.4,"s":"2SPINATM","v":-5},{"t":500.6,"s":"2SPINATM","v":4.62},{"t":508.5,"s":"2SPINATM","v":-5},{"t":508.6,"s":"2SPINATM","v":4.62},{"t":509.65,"s":"2SPINATM","v":-5},{"t":509.75,"s":"2SPINATM","v":4.62},{"t":596.03,"s":"2SPINATM","v":4.62},
  {"t":489.37,"s":"2SPHVATM","v":16.2},{"t":489.72,"s":"2SPHVATM","v":16.97},{"t":498.4,"s":"2SPHVATM","v":10.4},{"t":498.6,"s":"2SPHVATM","v":16.97},{"t":498.8,"s":"2SPHVATM","v":10.5},{"t":499.0,"s":"2SPHVATM","v":16.97},{"t":499.2,"s":"2SPHVATM","v":10.3},{"t":499.4,"s":"2SPHVATM","v":16.97},{"t":499.6,"s":"2SPHVATM","v":10.5},{"t":499.8,"s":"2SPHVATM","v":16.97},{"t":500.0,"s":"2SPHVATM","v":10.45},{"t":500.2,"s":"2SPHVATM","v":16.97},{"t":500.4,"s":"2SPHVATM","v":10.5},{"t":500.6,"s":"2SPHVATM","v":16.97},{"t":508.4,"s":"2SPHVATM","v":11.08},{"t":508.55,"s":"2SPHVATM","v":16.97},{"t":509.55,"s":"2SPHVATM","v":11.08},{"t":509.7,"s":"2SPHVATM","v":16.97},{"t":551.07,"s":"2SPHVATM","v":17.26},{"t":583.3,"s":"2SPHVATM","v":17.6},{"t":583.45,"s":"2SPHVATM","v":17.26},{"t":584.99,"s":"2SPHVATM","v":17.55},{"t":596.03,"s":"2SPHVATM","v":17.55},
  {"t":490.53,"s":"2IMINATM","v":2.37},{"t":498.4,"s":"2IMINATM","v":4.62},{"t":498.6,"s":"2IMINATM","v":2.37},{"t":498.8,"s":"2IMINATM","v":4.62},{"t":499.0,"s":"2IMINATM","v":2.37},{"t":499.2,"s":"2IMINATM","v":4.62},{"t":499.4,"s":"2IMINATM","v":2.37},{"t":499.6,"s":"2IMINATM","v":4.62},{"t":499.8,"s":"2IMINATM","v":2.37},{"t":500.0,"s":"2IMINATM","v":4.62},{"t":500.2,"s":"2IMINATM","v":2.37},{"t":500.4,"s":"2IMINATM","v":4.62},{"t":500.6,"s":"2IMINATM","v":2.37},{"t":508.5,"s":"2IMINATM","v":4.62},{"t":508.6,"s":"2IMINATM","v":2.37},{"t":509.65,"s":"2IMINATM","v":4.62},{"t":509.75,"s":"2IMINATM","v":2.37},{"t":577.44,"s":"2IMINATM","v":2.82},{"t":582.15,"s":"2IMINATM","v":2.37},{"t":582.3,"s":"2IMINATM","v":2.82},{"t":596.03,"s":"2IMINATM","v":2.82},
  {"t":489.3,"s":"2IMHVATM","v":-5},{"t":489.45,"s":"2IMHVATM","v":16.4},{"t":490.1,"s":"2IMHVATM","v":-5},{"t":490.25,"s":"2IMHVATM","v":16.4},{"t":498.4,"s":"2IMHVATM","v":17.0},{"t":498.55,"s":"2IMHVATM","v":16.4},{"t":499.0,"s":"2IMHVATM","v":17.0},{"t":499.15,"s":"2IMHVATM","v":16.4},{"t":499.6,"s":"2IMHVATM","v":17.0},{"t":499.75,"s":"2IMHVATM","v":16.4},{"t":500.3,"s":"2IMHVATM","v":17.0},{"t":500.45,"s":"2IMHVATM","v":16.4},{"t":501.91,"s":"2IMHVATM","v":16.68},{"t":507.3,"s":"2IMHVATM","v":17.0},{"t":507.45,"s":"2IMHVATM","v":16.68},{"t":508.89,"s":"2IMHVATM","v":16.97},{"t":515.86,"s":"2IMHVATM","v":17.26},{"t":523.76,"s":"2IMHVATM","v":17.55},{"t":531.8,"s":"2IMHVATM","v":17.9},{"t":531.95,"s":"2IMHVATM","v":17.55},{"t":533.29,"s":"2IMHVATM","v":17.84},{"t":540.55,"s":"2IMHVATM","v":-5},{"t":540.7,"s":"2IMHVATM","v":17.84},{"t":544.33,"s":"2IMHVATM","v":18.12},{"t":545.0,"s":"2IMHVATM","v":17.84},{"t":545.15,"s":"2IMHVATM","v":18.12},{"t":558.85,"s":"2IMHVATM","v":18.42},{"t":575.7,"s":"2IMHVATM","v":18.71},{"t":596.03,"s":"2IMHVATM","v":18.71}
 ],
 "p8":[
  {"t":455.09,"s":"2FHTRMZT","v":-4.05},{"t":481.58,"s":"2FHTRMZT","v":-4.43},{"t":503.78,"s":"2FHTRMZT","v":-4.05},{"t":515.86,"s":"2FHTRMZT","v":-3.66},{"t":527.02,"s":"2FHTRMZT","v":-3.27},{"t":538.52,"s":"2FHTRMZT","v":-2.89},{"t":550.37,"s":"2FHTRMZT","v":-2.52},{"t":562.46,"s":"2FHTRMZT","v":-2.13},{"t":575.24,"s":"2FHTRMZT","v":-1.75},{"t":588.26,"s":"2FHTRMZT","v":-1.37},{"t":596.03,"s":"2FHTRMZT","v":-1.37},
  {"t":455.09,"s":"2FRADPYT","v":-6.39},{"t":466.48,"s":"2FRADPYT","v":-6.0},{"t":476.47,"s":"2FRADPYT","v":-6.39},{"t":485.19,"s":"2FRADPYT","v":-6.78},{"t":508.89,"s":"2FRADPYT","v":-6.39},{"t":522.37,"s":"2FRADPYT","v":-6.0},{"t":535.5,"s":"2FRADPYT","v":-5.6},{"t":548.63,"s":"2FRADPYT","v":-5.21},{"t":562.46,"s":"2FRADPYT","v":-4.82},{"t":576.87,"s":"2FRADPYT","v":-4.43},{"t":591.5,"s":"2FRADPYT","v":-4.05},{"t":596.03,"s":"2FRADPYT","v":-4.05},
  {"t":490.53,"s":"2FEPRATM","v":-3.44},{"t":491.93,"s":"2FEPRATM","v":-3.04},{"t":494.83,"s":"2FEPRATM","v":-2.64},{"t":497.85,"s":"2FEPRATM","v":-2.23},{"t":498.5,"s":"2FEPRATM","v":-4.69},{"t":498.65,"s":"2FEPRATM","v":-2.23},{"t":499.4,"s":"2FEPRATM","v":-4.69},{"t":499.55,"s":"2FEPRATM","v":-2.23},{"t":500.1,"s":"2FEPRATM","v":-4.69},{"t":500.25,"s":"2FEPRATM","v":-2.23},{"t":501.91,"s":"2FEPRATM","v":-1.85},{"t":507.15,"s":"2FEPRATM","v":-1.41},{"t":508.5,"s":"2FEPRATM","v":-4.69},{"t":508.62,"s":"2FEPRATM","v":-1.41},{"t":509.65,"s":"2FEPRATM","v":-4.69},{"t":509.77,"s":"2FEPRATM","v":-1.41},{"t":513.77,"s":"2FEPRATM","v":-1.0},{"t":522.37,"s":"2FEPRATM","v":-0.6},{"t":531.89,"s":"2FEPRATM","v":-0.18},{"t":542.7,"s":"2FEPRATM","v":0.23},{"t":554.32,"s":"2FEPRATM","v":0.66},{"t":567.57,"s":"2FEPRATM","v":1.08},{"t":581.28,"s":"2FEPRATM","v":1.5},{"t":596.03,"s":"2FEPRATM","v":1.5},
  {"t":489.3,"s":"2FE00ATM","v":-10},{"t":489.45,"s":"2FE00ATM","v":-2.11},{"t":490.1,"s":"2FE00ATM","v":-10},{"t":490.25,"s":"2FE00ATM","v":-2.11},{"t":497.27,"s":"2FE00ATM","v":-1.77},{"t":498.4,"s":"2FE00ATM","v":10},{"t":498.6,"s":"2FE00ATM","v":-1.77},{"t":498.8,"s":"2FE00ATM","v":10},{"t":499.0,"s":"2FE00ATM","v":-1.77},{"t":499.2,"s":"2FE00ATM","v":10},{"t":499.4,"s":"2FE00ATM","v":-1.77},{"t":499.6,"s":"2FE00ATM","v":10},{"t":499.8,"s":"2FE00ATM","v":-1.77},{"t":500.0,"s":"2FE00ATM","v":10},{"t":500.2,"s":"2FE00ATM","v":-1.77},{"t":500.4,"s":"2FE00ATM","v":10},{"t":500.6,"s":"2FE00ATM","v":-1.77},{"t":505.76,"s":"2FE00ATM","v":-1.44},{"t":506.1,"s":"2FE00ATM","v":-2.15},{"t":506.25,"s":"2FE00ATM","v":-1.44},{"t":507.38,"s":"2FE00ATM","v":10},{"t":507.5,"s":"2FE00ATM","v":-1.44},{"t":508.5,"s":"2FE00ATM","v":10},{"t":508.62,"s":"2FE00ATM","v":-1.44},{"t":509.4,"s":"2FE00ATM","v":10},{"t":509.52,"s":"2FE00ATM","v":-1.44},{"t":512.96,"s":"2FE00ATM","v":-1.12},{"t":516.85,"s":"2FE00ATM","v":-0.75},{"t":516.95,"s":"2FE00ATM","v":-1.12},{"t":520.28,"s":"2FE00ATM","v":-0.79},{"t":527.83,"s":"2FE00ATM","v":-0.47},{"t":531.25,"s":"2FE00ATM","v":-1.15},{"t":531.4,"s":"2FE00ATM","v":-0.47},{"t":535.96,"s":"2FE00ATM","v":-0.15},{"t":540.55,"s":"2FE00ATM","v":-10},{"t":540.7,"s":"2FE00ATM","v":-0.15},{"t":544.33,"s":"2FE00ATM","v":0.19},{"t":550.1,"s":"2FE00ATM","v":-0.2},{"t":550.25,"s":"2FE00ATM","v":0.19},{"t":553.16,"s":"2FE00ATM","v":0.49},{"t":562.57,"s":"2FE00ATM","v":0.81},{"t":571.99,"s":"2FE00ATM","v":1.14},{"t":572.9,"s":"2FE00ATM","v":0.47},{"t":573.05,"s":"2FE00ATM","v":1.14},{"t":574.2,"s":"2FE00ATM","v":0.77},{"t":574.35,"s":"2FE00ATM","v":1.14},{"t":582.68,"s":"2FE00ATM","v":1.44},{"t":585.5,"s":"2FE00ATM","v":0.76},{"t":585.65,"s":"2FE00ATM","v":1.44},{"t":592.9,"s":"2FE00ATM","v":1.73},{"t":596.03,"s":"2FE00ATM","v":1.73}
 ]
},
"vconcat":[
 {
  "width":1712,"height":673,
  "layer":[
   {"data":{"name":"grey_span"},"mark":{"type":"rect","color":"#000000","opacity":0.1},"encoding":{"x":{"field":"t","type":"quantitative","scale":{"domain":[448,603.25],"nice":false,"zero":false},"axis":null},"x2":{"field":"t2"}}},
   {"data":{"name":"pink_span"},"mark":{"type":"rect","color":"#ff0000","opacity":0.06},"encoding":{"x":{"field":"t","type":"quantitative","scale":{"domain":[448,603.25],"nice":false,"zero":false},"axis":null},"x2":{"field":"t2"}}},
   {"data":{"name":"data_end"},"mark":{"type":"rule","color":"#c4c4c4","strokeWidth":1.5},"encoding":{"x":{"field":"t","type":"quantitative","scale":{"domain":[448,603.25],"nice":false,"zero":false},"axis":null}}},
   {"data":{"name":"obs_edges"},"mark":{"type":"rule","color":"#000000","strokeWidth":2},"encoding":{"x":{"field":"t","type":"quantitative","scale":{"domain":[448,603.25],"nice":false,"zero":false},"axis":null}}},
   {"data":{"name":"pitch"},"mark":{"type":"line","color":"#000000","strokeWidth":4,"interpolate":"monotone"},"encoding":{
     "x":{"field":"t","type":"quantitative","scale":{"domain":[448,603.25],"nice":false,"zero":false},"axis":{"orient":"bottom","values":[450,465,480,495,510,525,540,555,570,585,600],"title":null,"labels":false,"grid":true,"gridColor":{"condition":{"test":"datum.value % 60 === 0","value":"#c8c8c8"},"value":"#b0b0b0"},"gridDash":{"condition":{"test":"datum.value % 60 === 0","value":[]},"value":[8,5]},"gridWidth":1.5,"tickSize":{"condition":{"test":"datum.value % 60 === 0","value":28},"value":0},"tickWidth":2.5}},
     "y":{"field":"v","type":"quantitative","scale":{"domain":[45,180],"nice":false,"zero":false},"axis":{"orient":"left","title":"Pitch Angle","values":[60,80,100,120,140,160,180]}}}},
   {"data":{"name":"obs_labels"},"transform":[{"filter":"datum.obsid !== '25603 HRC-I'"}],"mark":{"type":"text","angle":270,"align":"left","baseline":"middle","fontSize":27},"encoding":{
     "x":{"field":"t","type":"quantitative","scale":{"domain":[448,603.25],"nice":false,"zero":false},"axis":null},
     "y":{"datum":184,"type":"quantitative","scale":{"domain":[45,180],"nice":false,"zero":false},"axis":null},
     "text":{"field":"obsid"}}},
   {"data":{"name":"obs_labels"},"transform":[{"filter":"datum.obsid === '25603 HRC-I'"}],"mark":{"type":"text","angle":270,"align":"left","baseline":"middle","fontSize":27,"fontWeight":"bold"},"encoding":{
     "x":{"field":"t","type":"quantitative","scale":{"domain":[448,603.25],"nice":false,"zero":false},"axis":null},
     "y":{"datum":184,"type":"quantitative","scale":{"domain":[45,180],"nice":false,"zero":false},"axis":null},
     "text":{"field":"obsid"}}},
   {"data":{"name":"roll"},"mark":{"type":"line","color":"#ff7f0e","strokeWidth":3.5},"encoding":{
     "x":{"field":"t","type":"quantitative","scale":{"domain":[448,603.25],"nice":false,"zero":false},"axis":{"orient":"top","values":[450,480,510,540,570,600],"title":null,"grid":false,"labelAngle":270,"labelAlign":"left","labelBaseline":"middle","labelFontSize":16.7,"labelPadding":9,"labelLimit":0,"tickSize":10,"tickWidth":2.5,"labelOverlap":false,"labelExpr":"'2023:158:' + (floor(datum.value / 60) < 10 ? '0' : '') + floor(datum.value / 60) + ':' + (datum.value % 60 < 10 ? '0' : '') + (datum.value % 60) + ':00.000'"}},
     "y":{"field":"v","type":"quantitative","scale":{"domain":[-5,0.24],"nice":false,"zero":false},"axis":{"orient":"right","title":"Off Nominal Roll Angle","titleAngle":270,"titleBaseline":"top","values":[-5,-4,-3,-2,-1,0],"labelColor":"#ff7f0e","tickColor":"#ff7f0e","titleColor":"#ff7f0e","tickSize":14,"labelPadding":6,"titlePadding":10}}}}
  ],
  "resolve":{"scale":{"y":"independent"},"axis":{"x":"independent","y":"independent"}}
 },
 {
  "width":1712,"height":673,
  "layer":[
   {"data":{"name":"pink_span"},"mark":{"type":"rect","color":"#ff0000","opacity":0.06},"encoding":{"x":{"field":"t","type":"quantitative","scale":{"domain":[448,603.25],"nice":false,"zero":false},"axis":{"values":[450,465,480,495,510,525,540,555,570,585,600],"title":null,"labels":false,"grid":true,"gridColor":{"condition":{"test":"datum.value % 60 === 0","value":"#c8c8c8"},"value":"#b0b0b0"},"gridDash":{"condition":{"test":"datum.value % 60 === 0","value":[]},"value":[8,5]},"gridWidth":1.5,"tickSize":{"condition":{"test":"datum.value % 60 === 0","value":28},"value":0},"tickWidth":2.5}},"x2":{"field":"t2"}}},
   {"data":{"name":"data_end"},"mark":{"type":"rule","color":"#c4c4c4","strokeWidth":1.5},"encoding":{"x":{"field":"t","type":"quantitative","scale":{"domain":[448,603.25],"nice":false,"zero":false},"axis":null}}},
   {"data":{"name":"obs_edges"},"mark":{"type":"rule","color":"#000000","strokeWidth":2},"encoding":{"x":{"field":"t","type":"quantitative","scale":{"domain":[448,603.25],"nice":false,"zero":false},"axis":null}}},
   {"data":{"name":"limits2"},"mark":{"type":"rule","color":"#808080","strokeWidth":2.5},"encoding":{"y":{"field":"limit","type":"quantitative","scale":{"domain":[-3.25,11],"nice":false,"zero":false},"axis":null}}},
   {"data":{"name":"trend"},"mark":{"type":"line","color":"#444444","strokeWidth":5},"encoding":{"x":{"field":"t","type":"quantitative","scale":{"domain":[448,603.25],"nice":false,"zero":false},"axis":null},"y":{"field":"v","type":"quantitative","scale":{"domain":[-3.25,11],"nice":false,"zero":false},"axis":null}}},
   {"data":{"name":"p2"},"mark":{"type":"line","strokeWidth":7,"interpolate":"step-after"},"encoding":{
     "x":{"field":"t","type":"quantitative","scale":{"domain":[448,603.25],"nice":false,"zero":false},"axis":null},
     "y":{"field":"v","type":"quantitative","scale":{"domain":[-3.25,11],"nice":false,"zero":false},"axis":{"title":"Temperature","values":[-2,0,2,4,6,8,10]}},
     "color":{"field":"s","type":"nominal","scale":{"domain":["2CHTRPZT","2CEAHVPT","2DTSTATT","2DCENTRT"],"range":["#1f77b4","#ff7f0e","#2ca02c","#d62728"]},"legend":{"title":null,"columns":2,"columnPadding":45}}}},
   {"data":{"name":"note"},"mark":{"type":"rect","fill":"#ffffff","stroke":"#000000","strokeWidth":2},"encoding":{
     "x":{"datum":524.7,"type":"quantitative","scale":{"domain":[448,603.25],"nice":false,"zero":false},"axis":null},"x2":{"datum":537.82},
     "y":{"datum":-1.16,"type":"quantitative","scale":{"domain":[-3.25,11],"nice":false,"zero":false},"axis":null},"y2":{"datum":-3.62}}},
   {"data":{"name":"note"},"mark":{"type":"text","align":"left","baseline":"top","fontSize":24,"lineHeight":32},"encoding":{
     "x":{"datum":525.8,"type":"quantitative","scale":{"domain":[448,603.25],"nice":false,"zero":false},"axis":null},
     "y":{"datum":-1.3,"type":"quantitative","scale":{"domain":[-3.25,11],"nice":false,"zero":false},"axis":null},
     "text":{"field":"note"}}}
  ],
  "resolve":{"axis":{"x":"independent","y":"independent"}}
 },
 {
  "width":1712,"height":673,
  "layer":[
   {"data":{"name":"pink_span"},"mark":{"type":"rect","color":"#ff0000","opacity":0.06},"encoding":{"x":{"field":"t","type":"quantitative","scale":{"domain":[448,603.25],"nice":false,"zero":false},"axis":{"values":[450,465,480,495,510,525,540,555,570,585,600],"title":null,"labels":false,"grid":true,"gridColor":{"condition":{"test":"datum.value % 60 === 0","value":"#c8c8c8"},"value":"#b0b0b0"},"gridDash":{"condition":{"test":"datum.value % 60 === 0","value":[]},"value":[8,5]},"gridWidth":1.5,"tickSize":{"condition":{"test":"datum.value % 60 === 0","value":28},"value":0},"tickWidth":2.5}},"x2":{"field":"t2"}}},
   {"data":{"name":"data_end"},"mark":{"type":"rule","color":"#c4c4c4","strokeWidth":1.5},"encoding":{"x":{"field":"t","type":"quantitative","scale":{"domain":[448,603.25],"nice":false,"zero":false},"axis":null}}},
   {"data":{"name":"obs_edges"},"mark":{"type":"rule","color":"#000000","strokeWidth":2},"encoding":{"x":{"field":"t","type":"quantitative","scale":{"domain":[448,603.25],"nice":false,"zero":false},"axis":null}}},
   {"data":{"name":"limits3"},"mark":{"type":"rule","color":"#808080","strokeWidth":2.5},"encoding":{"y":{"field":"limit","type":"quantitative","scale":{"domain":[6.36,13.5],"nice":false,"zero":false},"axis":null}}},
   {"data":{"name":"p3_hvpt"},"mark":{"type":"line","strokeWidth":7,"interpolate":"step-after"},"encoding":{
     "x":{"field":"t","type":"quantitative","scale":{"domain":[448,603.25],"nice":false,"zero":false},"axis":null},
     "y":{"field":"v","type":"quantitative","scale":{"domain":[6.36,13.5],"nice":false,"zero":false},"axis":{"title":"Temperature","values":[7,8,9,10,11,12,13]}},
     "color":{"field":"s","type":"nominal","scale":{"domain":["2CEAHVPT","Model"],"range":["#1f77b4","#ff7f0e"]},"legend":{"title":null}}}},
   {"data":{"name":"p3_model"},"mark":{"type":"line","strokeWidth":7},"encoding":{
     "x":{"field":"t","type":"quantitative","scale":{"domain":[448,603.25],"nice":false,"zero":false},"axis":null},
     "y":{"field":"v","type":"quantitative","scale":{"domain":[6.36,13.5],"nice":false,"zero":false},"axis":null},
     "color":{"field":"s","type":"nominal","scale":{"domain":["2CEAHVPT","Model"],"range":["#1f77b4","#ff7f0e"]},"legend":{"title":null}}}}
  ],
  "resolve":{"axis":{"x":"independent","y":"independent"}}
 },
 {
  "width":1712,"height":673,
  "layer":[
   {"data":{"name":"pink_span"},"mark":{"type":"rect","color":"#ff0000","opacity":0.06},"encoding":{"x":{"field":"t","type":"quantitative","scale":{"domain":[448,603.25],"nice":false,"zero":false},"axis":{"values":[450,465,480,495,510,525,540,555,570,585,600],"title":null,"labels":false,"grid":true,"gridColor":{"condition":{"test":"datum.value % 60 === 0","value":"#c8c8c8"},"value":"#b0b0b0"},"gridDash":{"condition":{"test":"datum.value % 60 === 0","value":[]},"value":[8,5]},"gridWidth":1.5,"tickSize":{"condition":{"test":"datum.value % 60 === 0","value":28},"value":0},"tickWidth":2.5}},"x2":{"field":"t2"}}},
   {"data":{"name":"data_end"},"mark":{"type":"rule","color":"#c4c4c4","strokeWidth":1.5},"encoding":{"x":{"field":"t","type":"quantitative","scale":{"domain":[448,603.25],"nice":false,"zero":false},"axis":null}}},
   {"data":{"name":"obs_edges"},"mark":{"type":"rule","color":"#000000","strokeWidth":2},"encoding":{"x":{"field":"t","type":"quantitative","scale":{"domain":[448,603.25],"nice":false,"zero":false},"axis":null}}},
   {"data":{"name":"data_end"},"mark":{"type":"rule","opacity":0},"encoding":{"y":{"datum":10,"type":"quantitative","scale":{"type":"log","domain":[10,60600],"nice":false},"axis":{"orient":"left","title":null,"labels":false,"values":[20,30,40,50,60,70,80,90,200,300,400,500,600,700,800,900,2000,3000,4000,5000,6000,7000,8000,9000,20000,30000,40000,50000,60000],"tickSize":12,"tickWidth":2}}}},
   {"data":{"name":"p4"},"transform":[{"fold":["2TLEV1RT","2VLEV1RT","2SHEV1RT"],"as":["s","v"]}],"mark":{"type":"line","strokeWidth":2.5,"clip":true,"invalid":"filter"},"encoding":{
     "x":{"field":"t","type":"quantitative","scale":{"domain":[448,603.25],"nice":false,"zero":false},"axis":null},
     "y":{"field":"v","type":"quantitative","scale":{"type":"log","domain":[10,60600],"nice":false},"axis":{"orient":"left","title":"Rate","values":[10,100,1000,10000],"labelExpr":"datum.value === 10 ? '10¹' : datum.value === 100 ? '10²' : datum.value === 1000 ? '10³' : '10⁴'","labelOverlap":false,"tickSize":27,"tickWidth":3}},
     "color":{"field":"s","type":"nominal","scale":{"domain":["2TLEV1RT","2VLEV1RT","2SHEV1RT"],"range":["#1f77b4","#ff7f0e","#2ca02c"]},"legend":{"title":null,"orient":"top-right"}}}}
  ],
  "resolve":{"axis":{"x":"independent","y":"independent"}}
 },
 {
  "width":1712,"height":673,
  "layer":[
   {"data":{"name":"pink_span"},"mark":{"type":"rect","color":"#ff0000","opacity":0.06},"encoding":{"x":{"field":"t","type":"quantitative","scale":{"domain":[448,603.25],"nice":false,"zero":false},"axis":{"values":[450,465,480,495,510,525,540,555,570,585,600],"title":null,"labels":false,"grid":true,"gridColor":{"condition":{"test":"datum.value % 60 === 0","value":"#c8c8c8"},"value":"#b0b0b0"},"gridDash":{"condition":{"test":"datum.value % 60 === 0","value":[]},"value":[8,5]},"gridWidth":1.5,"tickSize":{"condition":{"test":"datum.value % 60 === 0","value":28},"value":0},"tickWidth":2.5}},"x2":{"field":"t2"}}},
   {"data":{"name":"data_end"},"mark":{"type":"rule","color":"#c4c4c4","strokeWidth":1.5},"encoding":{"x":{"field":"t","type":"quantitative","scale":{"domain":[448,603.25],"nice":false,"zero":false},"axis":null}}},
   {"data":{"name":"obs_edges"},"mark":{"type":"rule","color":"#000000","strokeWidth":2},"encoding":{"x":{"field":"t","type":"quantitative","scale":{"domain":[448,603.25],"nice":false,"zero":false},"axis":null}}},
   {"data":{"name":"p5"},"mark":{"type":"line","strokeWidth":7},"encoding":{
     "x":{"field":"t","type":"quantitative","scale":{"domain":[448,603.25],"nice":false,"zero":false},"axis":null},
     "y":{"field":"v","type":"quantitative","scale":{"domain":[-20,20],"nice":false,"zero":false},"axis":{"title":"Volt","values":[-20,-15,-10,-5,0,5,10,15,20]}},
     "color":{"field":"s","type":"nominal","scale":{"domain":["2P15VAVL","2N15VAVL","2P05VAVL"],"range":["#1f77b4","#ff7f0e","#2ca02c"]},"legend":{"title":null}}}}
  ],
  "resolve":{"axis":{"x":"independent","y":"independent"}}
 },
 {
  "width":1712,"height":673,
  "layer":[
   {"data":{"name":"pink_span"},"mark":{"type":"rect","color":"#ff0000","opacity":0.06},"encoding":{"x":{"field":"t","type":"quantitative","scale":{"domain":[448,603.25],"nice":false,"zero":false},"axis":{"values":[450,465,480,495,510,525,540,555,570,585,600],"title":null,"labels":false,"grid":true,"gridColor":{"condition":{"test":"datum.value % 60 === 0","value":"#c8c8c8"},"value":"#b0b0b0"},"gridDash":{"condition":{"test":"datum.value % 60 === 0","value":[]},"value":[8,5]},"gridWidth":1.5,"tickSize":{"condition":{"test":"datum.value % 60 === 0","value":28},"value":0},"tickWidth":2.5}},"x2":{"field":"t2"}}},
   {"data":{"name":"data_end"},"mark":{"type":"rule","color":"#c4c4c4","strokeWidth":1.5},"encoding":{"x":{"field":"t","type":"quantitative","scale":{"domain":[448,603.25],"nice":false,"zero":false},"axis":null}}},
   {"data":{"name":"obs_edges"},"mark":{"type":"rule","color":"#000000","strokeWidth":2},"encoding":{"x":{"field":"t","type":"quantitative","scale":{"domain":[448,603.25],"nice":false,"zero":false},"axis":null}}},
   {"data":{"name":"p6"},"transform":[{"fold":["2IMHVLV","2IMHBLV"],"as":["s","v"]}],"mark":{"type":"point","filled":true,"size":110,"opacity":1,"invalid":"filter"},"encoding":{
     "x":{"field":"t","type":"quantitative","scale":{"domain":[448,603.25],"nice":false,"zero":false},"axis":null},
     "y":{"field":"v","type":"quantitative","scale":{"domain":[0,266],"nice":false,"zero":false},"axis":{"title":"HV Monitor","values":[0,50,100,150,200,250]}},
     "color":{"field":"s","type":"nominal","scale":{"domain":["2SPHBLV","2SPHVLV","2IMHVLV","2IMHBLV"],"range":["#1f77b4","#ff7f0e","#2ca02c","#d62728"]},"legend":{"title":null,"symbolType":"circle","symbolSize":70,"symbolStrokeWidth":0}},
     "order":{"field":"s","sort":"descending"}}}
  ],
  "resolve":{"axis":{"x":"independent","y":"independent"}}
 },
 {
  "width":1712,"height":673,
  "layer":[
   {"data":{"name":"pink_span"},"mark":{"type":"rect","color":"#ff0000","opacity":0.06},"encoding":{"x":{"field":"t","type":"quantitative","scale":{"domain":[448,603.25],"nice":false,"zero":false},"axis":{"values":[450,465,480,495,510,525,540,555,570,585,600],"title":null,"labels":false,"grid":true,"gridColor":{"condition":{"test":"datum.value % 60 === 0","value":"#c8c8c8"},"value":"#b0b0b0"},"gridDash":{"condition":{"test":"datum.value % 60 === 0","value":[]},"value":[8,5]},"gridWidth":1.5,"tickSize":{"condition":{"test":"datum.value % 60 === 0","value":28},"value":0},"tickWidth":2.5}},"x2":{"field":"t2"}}},
   {"data":{"name":"data_end"},"mark":{"type":"rule","color":"#c4c4c4","strokeWidth":1.5},"encoding":{"x":{"field":"t","type":"quantitative","scale":{"domain":[448,603.25],"nice":false,"zero":false},"axis":null}}},
   {"data":{"name":"obs_edges"},"mark":{"type":"rule","color":"#000000","strokeWidth":2},"encoding":{"x":{"field":"t","type":"quantitative","scale":{"domain":[448,603.25],"nice":false,"zero":false},"axis":null}}},
   {"data":{"name":"p7"},"mark":{"type":"line","strokeWidth":7,"interpolate":"step-after","clip":true},"encoding":{
     "x":{"field":"t","type":"quantitative","scale":{"domain":[448,603.25],"nice":false,"zero":false},"axis":null},
     "y":{"field":"v","type":"quantitative","scale":{"domain":[0.87,19.9],"nice":false,"zero":false},"axis":{"title":"Detector Temp","values":[2.5,5,7.5,10,12.5,15,17.5],"format":".1f"}},
     "color":{"field":"s","type":"nominal","scale":{"domain":["2SPINATM","2SPHVATM","2IMINATM","2IMHVATM"],"range":["#1f77b4","#ff7f0e","#2ca02c","#d62728"]},"legend":{"title":null}}}}
  ],
  "resolve":{"axis":{"x":"independent","y":"independent"}}
 },
 {
  "width":1712,"height":673,
  "layer":[
   {"data":{"name":"pink_span"},"mark":{"type":"rect","color":"#ff0000","opacity":0.06},"encoding":{"x":{"field":"t","type":"quantitative","scale":{"domain":[448,603.25],"nice":false,"zero":false},"axis":{"values":[450,465,480,495,510,525,540,555,570,585,600],"title":"2023-06-07 (158)","titleFontSize":33,"titlePadding":2,"labels":true,"labelOverlap":false,"labelFlush":false,"labelBaseline":"top","labelExpr":"datum.value % 60 === 0 ? ((floor(datum.value / 60) - 4 < 10 ? '0' : '') + (floor(datum.value / 60) - 4) + 'h') : ('' + (datum.value % 60))","labelFontSize":{"condition":{"test":"datum.value % 60 === 0","value":27},"value":18},"labelPadding":{"condition":{"test":"datum.value % 60 === 0","value":4},"value":3},"grid":true,"gridColor":{"condition":{"test":"datum.value % 60 === 0","value":"#c8c8c8"},"value":"#b0b0b0"},"gridDash":{"condition":{"test":"datum.value % 60 === 0","value":[]},"value":[8,5]},"gridWidth":1.5,"tickSize":{"condition":{"test":"datum.value % 60 === 0","value":28},"value":6},"tickWidth":2.5}},"x2":{"field":"t2"}}},
   {"data":{"name":"data_end"},"mark":{"type":"rule","color":"#c4c4c4","strokeWidth":1.5},"encoding":{"x":{"field":"t","type":"quantitative","scale":{"domain":[448,603.25],"nice":false,"zero":false},"axis":null}}},
   {"data":{"name":"obs_edges"},"mark":{"type":"rule","color":"#000000","strokeWidth":2},"encoding":{"x":{"field":"t","type":"quantitative","scale":{"domain":[448,603.25],"nice":false,"zero":false},"axis":null}}},
   {"data":{"name":"p8"},"mark":{"type":"line","strokeWidth":7,"interpolate":"step-after","clip":true},"encoding":{
     "x":{"field":"t","type":"quantitative","scale":{"domain":[448,603.25],"nice":false,"zero":false},"axis":null},
     "y":{"field":"v","type":"quantitative","scale":{"domain":[-7.9,2.57],"nice":false,"zero":false},"axis":{"title":"FEA Temp","values":[-6,-4,-2,0,2]}},
     "color":{"field":"s","type":"nominal","scale":{"domain":["2FHTRMZT","2FRADPYT","2FEPRATM","2FE00ATM"],"range":["#1f77b4","#ff7f0e","#2ca02c","#d62728"]},"legend":{"title":null}}}}
  ],
  "resolve":{"axis":{"x":"independent","y":"independent"}}
 }
]
}
